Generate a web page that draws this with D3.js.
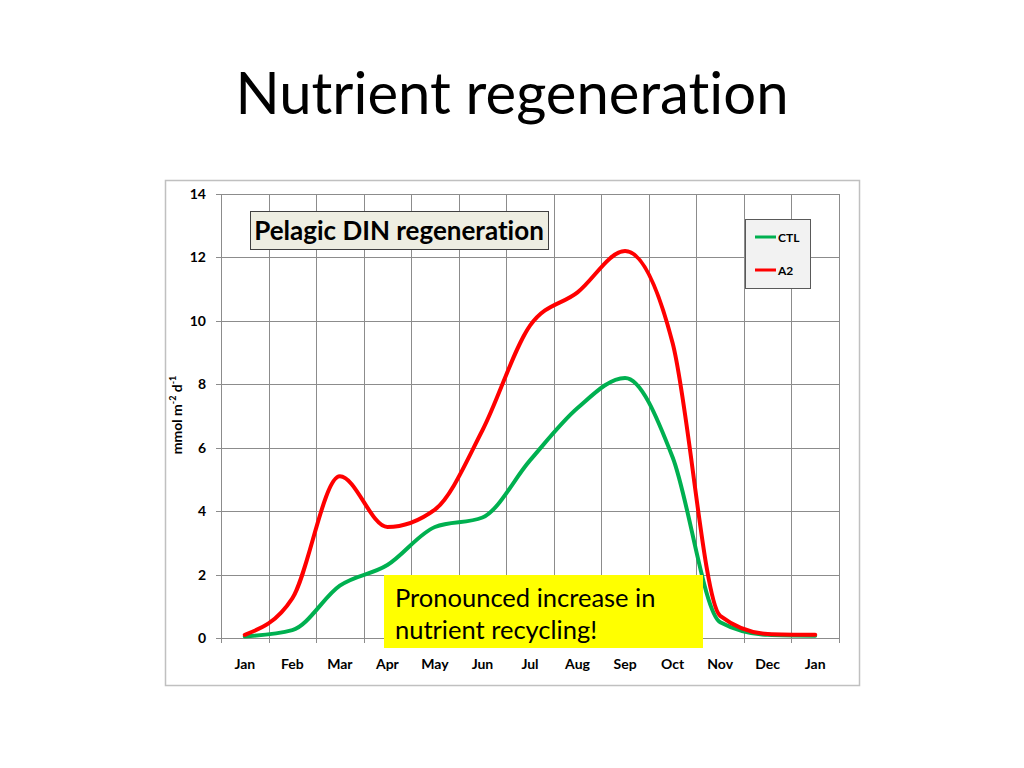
<!DOCTYPE html>
<html>
<head>
<meta charset="utf-8">
<script src="https://cdn.jsdelivr.net/npm/d3@7"></script>
<style>
    body { margin: 0; background: #fff; }
    svg { font-family: Lato, "Open Sans", sans-serif; font-variant-ligatures: none; }
</style>
</head>
<body>
<div id="chart"></div>
<script>
// month labels (13 points, Jan to Jan)
const months = ["Jan", "Feb", "Mar", "Apr", "May", "Jun", "Jul", "Aug", "Sep", "Oct", "Nov", "Dec", "Jan"];
// mmol m-2 d-1
const ctlValues = [0.05, 0.25, 1.65, 2.3, 3.5, 3.8, 5.6, 7.25, 8.2, 5.7, 0.5, 0.1, 0.07];
const a2Values = [0.1, 1.25, 5.1, 3.5, 4.05, 6.55, 9.85, 10.9, 12.2, 9.3, 0.7, 0.13, 0.1];
const yTicks = [0, 2, 4, 6, 8, 10, 12, 14];

const series = [
    { name: "CTL", color: "#00b050", values: ctlValues },
    { name: "A2", color: "#ff0000", values: a2Values }
];

const svg = d3.select("#chart").append("svg")
    .attr("width", 1024)
    .attr("height", 768);

// slide title
svg.append("text")
    .attr("x", 512)
    .attr("y", 114)
    .attr("text-anchor", "middle")
    .style("font-size", "58px")
    .text("Nutrient regeneration");

// chart frame
svg.append("rect")
    .attr("x", 165.5)
    .attr("y", 180.5)
    .attr("width", 694)
    .attr("height", 505)
    .attr("fill", "#fff")
    .attr("stroke", "#c0c0c0")
    .attr("stroke-width", 1.5);

const margin = { top: 194, left: 221 };
const width = 618;
const height = 444;

const g = svg.append("g")
    .attr("transform", `translate(${margin.left},${margin.top})`);

const x = d3.scaleBand()
    .domain(d3.range(months.length))
    .range([0, width]);

const y = d3.scaleLinear()
    .domain([0, 14])
    .range([height, 0]);

// grid
g.append("g")
    .selectAll("line")
    .data(yTicks)
    .enter()
    .append("line")
    .attr("x1", 0)
    .attr("x2", width)
    .attr("y1", d => Math.round(y(d)) + 0.5)
    .attr("y2", d => Math.round(y(d)) + 0.5)
    .attr("stroke", "#8c8c8c")
    .attr("stroke-width", 1);

const bounds = d3.range(months.length + 1).map(i => i * x.bandwidth());
g.append("g")
    .selectAll("line")
    .data(bounds)
    .enter()
    .append("line")
    .attr("x1", d => Math.round(d) + 0.5)
    .attr("x2", d => Math.round(d) + 0.5)
    .attr("y1", 0)
    .attr("y2", height + 5)
    .attr("stroke", "#8c8c8c")
    .attr("stroke-width", 1);

// y ticks + labels
g.append("g")
    .selectAll("line")
    .data(yTicks)
    .enter()
    .append("line")
    .attr("x1", -5)
    .attr("x2", 0)
    .attr("y1", d => Math.round(y(d)) + 0.5)
    .attr("y2", d => Math.round(y(d)) + 0.5)
    .attr("stroke", "#8c8c8c");

g.append("g")
    .selectAll("text")
    .data(yTicks)
    .enter()
    .append("text")
    .attr("x", -15)
    .attr("y", d => y(d) + 5)
    .attr("text-anchor", "end")
    .style("font-size", "14px")
    .style("font-weight", "bold")
    .text(d => d);

// x labels
g.append("g")
    .selectAll("text")
    .data(months)
    .enter()
    .append("text")
    .attr("x", (d, i) => x(i) + x.bandwidth() / 2)
    .attr("y", height + 31)
    .attr("text-anchor", "middle")
    .style("font-size", "14px")
    .style("font-weight", "bold")
    .text(d => d);

// y axis title
const yTitle = svg.append("text")
    .attr("transform", "translate(182,415) rotate(-90)")
    .attr("text-anchor", "middle")
    .style("font-size", "14px")
    .style("font-weight", "bold");
yTitle.append("tspan").text("mmol m");
yTitle.append("tspan").attr("dy", -6).style("font-size", "9px").text("-2");
yTitle.append("tspan").attr("dy", 6).text(" d");
yTitle.append("tspan").attr("dy", -6).style("font-size", "9px").text("-1");

// lines
const line = d3.line()
    .x((d, i) => x(i) + x.bandwidth() / 2)
    .y(d => y(d))
    .curve(d3.curveMonotoneX);

g.selectAll(".series")
    .data(series)
    .enter()
    .append("path")
    .attr("class", "series")
    .attr("fill", "none")
    .attr("stroke", d => d.color)
    .attr("stroke-width", 4)
    .attr("stroke-linecap", "round")
    .attr("stroke-linejoin", "round")
    .attr("d", d => line(d.values));

// label box top left
svg.append("rect")
    .attr("x", 250.5)
    .attr("y", 211.5)
    .attr("width", 298)
    .attr("height", 38)
    .attr("fill", "#eeeee2")
    .attr("stroke", "#404040")
    .attr("stroke-width", 1);

svg.append("text")
    .attr("x", 399)
    .attr("y", 240)
    .attr("text-anchor", "middle")
    .style("font-size", "26px")
    .style("font-weight", "bold")
    .text("Pelagic DIN regeneration");

// legend
const legend = svg.append("g")
    .attr("transform", "translate(745,219)");

legend.append("rect")
    .attr("x", 0.5)
    .attr("y", 0.5)
    .attr("width", 65)
    .attr("height", 69)
    .attr("fill", "#f2f2f2")
    .attr("stroke", "#595959");

series.forEach((s, i) => {
    const ly = 18 + i * 33;
    legend.append("line")
        .attr("x1", 10)
        .attr("x2", 31)
        .attr("y1", ly)
        .attr("y2", ly)
        .attr("stroke", s.color)
        .attr("stroke-width", 3);
    legend.append("text")
        .attr("x", 33)
        .attr("y", ly + 4.5)
        .style("font-size", "12px")
        .style("font-weight", "bold")
        .text(s.name);
});

// yellow callout
svg.append("rect")
    .attr("x", 384)
    .attr("y", 575)
    .attr("width", 319)
    .attr("height", 73)
    .attr("fill", "#ffff00");

const callout = svg.append("text")
    .style("font-size", "25.5px");
callout.append("tspan").attr("x", 395).attr("y", 607).text("Pronounced increase in");
callout.append("tspan").attr("x", 395).attr("y", 639).text("nutrient recycling!");
</script>
</body>
</html>
